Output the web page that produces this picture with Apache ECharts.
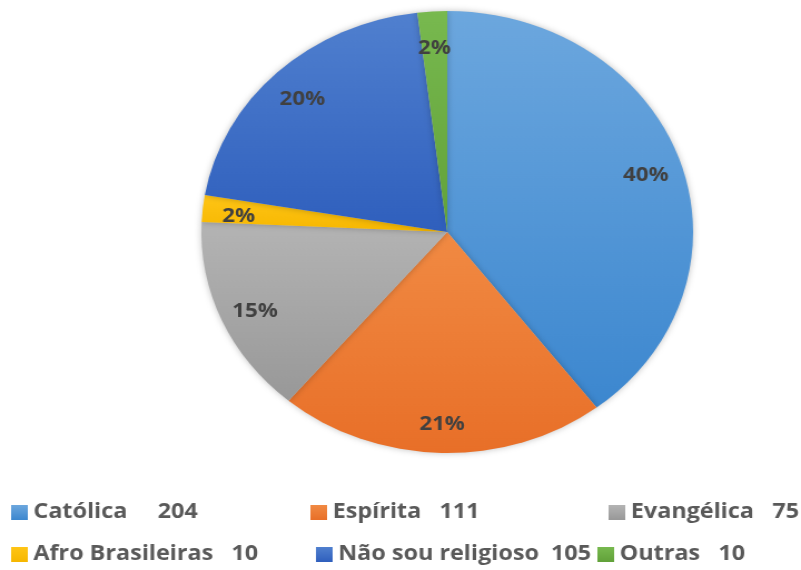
<!DOCTYPE html>
<html>
<head>
<meta charset="utf-8">
<script src="https://cdn.jsdelivr.net/npm/echarts@6/dist/echarts.min.js"></script>
<style>
	html, body { margin: 0; padding: 0; background: #fff; overflow: hidden; }
	/* o grafico original foi esticado na horizontal, por isso o scaleX */
	#chart { width: 720px; height: 570px; transform: scaleX(1.1125); transform-origin: 0 0; }
</style>
</head>
<body>
<div id="chart"></div>
<script>
const categories = ["Católica", "Espírita", "Evangélica", "Afro Brasileiras", "Não sou religioso", "Outras"];
const values = [204, 111, 75, 10, 105, 10];
const topColors = ["#6ca7de", "#f18a43", "#b4b4b4", "#ffc516", "#5080cf", "#78b94f"];
const bottomColors = ["#3c87cf", "#e86f28", "#989898", "#f6b700", "#2f5fbd", "#61a139"];

const myChart = echarts.init(document.getElementById("chart"));

// posicao de cada item da legenda (linhas com 3 itens)
const legendPos = [
	[10, 502], [279, 502], [547, 502],
	[10, 544], [284, 544], [537, 544]
];
const gaps = ["     ", "   ", "   ", "   ", "  ", "   "];

const pieData = categories.map((name, i) => ({
	name: name,
	value: values[i],
	itemStyle: {
		color: new echarts.graphic.LinearGradient(0, 0, 0, 1, [
			{ offset: 0, color: topColors[i] },
			{ offset: 1, color: bottomColors[i] }
		])
	}
}));

const legends = categories.map((name, i) => ({
	data: [name],
	left: legendPos[i][0],
	top: legendPos[i][1],
	padding: 0,
	icon: "rect",
	itemWidth: 15,
	itemHeight: 15,
	itemGap: 5,
	selectedMode: false,
	formatter: (n) => n + gaps[i] + values[i],
	textStyle: {
		fontFamily: "Open Sans",
		fontWeight: "bold",
		fontSize: 21,
		color: "#595959"
	}
}));

const option = {
	animation: false,
	legend: legends,
	series: [
		{
			type: "pie",
			center: [402, 232],
			radius: [0, 221],
			startAngle: 90,
			clockwise: true,
			silent: true,
			label: { show: false },
			labelLine: { show: false },
			itemStyle: {
				shadowBlur: 6,
				shadowColor: "rgba(0,0,0,0.25)"
			},
			data: pieData
		},
		{
			// serie so para os rotulos, anel transparente (rotulo fica a ~84% do raio)
			type: "pie",
			center: [402, 236],
			radius: [150, 221],
			startAngle: 90,
			clockwise: true,
			silent: true,
			percentPrecision: 0,
			itemStyle: { color: "rgba(0,0,0,0)" },
			label: {
				show: true,
				position: "inside",
				formatter: "{d}%",
				fontFamily: "Open Sans",
				fontWeight: "bold",
				fontSize: 20,
				color: "#404040"
			},
			labelLine: { show: false },
			data: categories.map((name, i) => ({ name: name, value: values[i] }))
		}
	]
};
myChart.setOption(option);
</script>
</body>
</html>
